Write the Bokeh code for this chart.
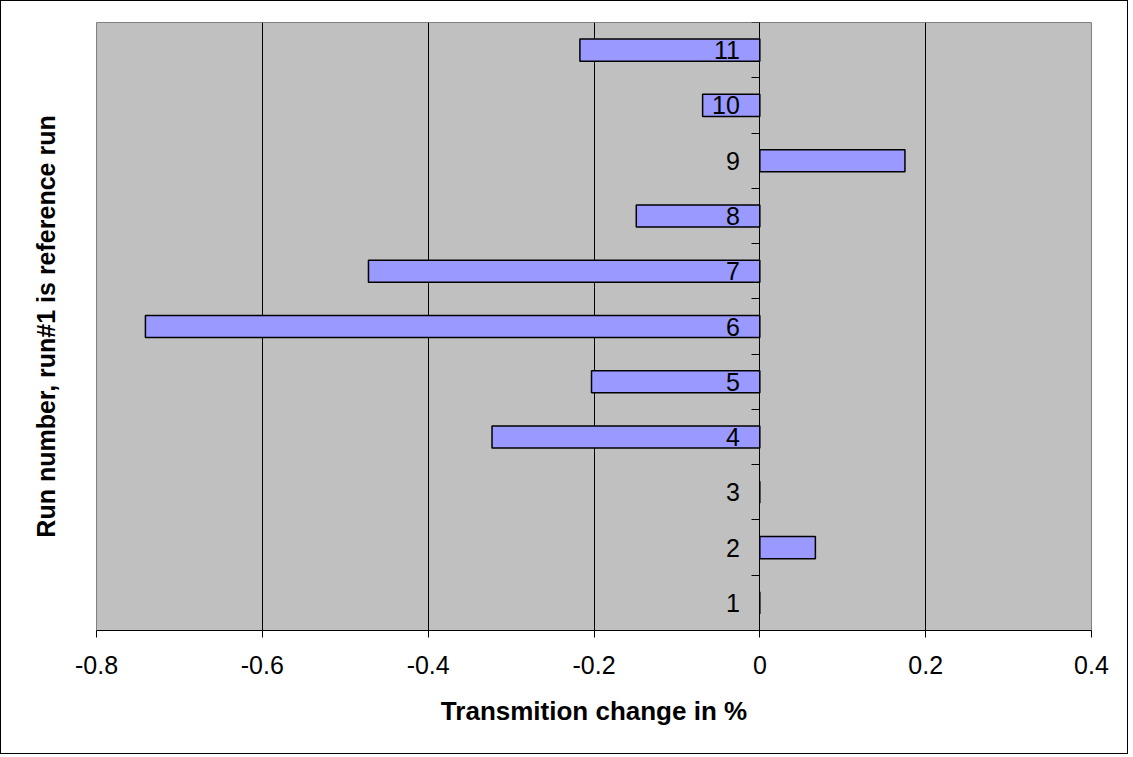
from bokeh.plotting import figure
from bokeh.models import Range1d, FixedTicker, LinearAxis, ColumnDataSource
from bokeh.embed import file_html
from bokeh.resources import INLINE

# ---- data ----
runs = [1, 2, 3, 4, 5, 6, 7, 8, 9, 10, 11]
run_labels = ["1", "2", "3", "4", "5", "6", "7", "8", "9", "10", "11"]
change = [0.0, 0.067, 0.0, -0.323, -0.203, -0.741, -0.472, -0.149, 0.175, -0.069, -0.217]
x_ticks = [-0.8, -0.6, -0.4, -0.2, 0.0, 0.2, 0.4]
x_tick_labels = ["-0.8", "-0.6", "-0.4", "-0.2", "0", "0.2", "0.4"]
x_title = "Transmition change in %"
y_title = "Run number, run#1 is reference run"

FONT = "Liberation Sans"

p = figure(width=1128, height=754, output_backend="svg", toolbar_location=None,
           x_range=Range1d(x_ticks[0], x_ticks[-1]),
           y_range=Range1d(runs[0] - 0.5, runs[-1] + 0.5),
           min_border_left=95, min_border_right=38, min_border_top=21, min_border_bottom=125)

p.background_fill_color = "#C0C0C0"
p.border_fill_color = "#FFFFFF"
p.outline_line_color = "#808080"
p.outline_line_width = 1
p.styles = {"border": "1px solid #000000"}

src = ColumnDataSource(dict(y=runs, right=change))
p.hbar(y="y", left=0, right="right", height=0.4, source=src,
       fill_color="#9999FF", line_color="#000000", line_width=1.5)

# x axis
xa = p.xaxis[0]
xa.ticker = FixedTicker(ticks=x_ticks)
xa.major_label_overrides = {t: l for t, l in zip(x_ticks, x_tick_labels)}
xa.minor_tick_line_color = None
xa.major_tick_out = 7
xa.major_tick_in = 0
xa.major_tick_line_color = "#000000"
xa.axis_line_color = "#000000"
xa.axis_line_width = 1
xa.major_label_text_font = FONT
xa.major_label_text_font_size = "25px"
xa.major_label_text_color = "#000000"
xa.major_label_standoff = 18
xa.axis_label = x_title
xa.axis_label_text_font = FONT
xa.axis_label_text_font_size = "26px"
xa.axis_label_text_font_style = "bold"
xa.axis_label_text_color = "#000000"
xa.axis_label_standoff = 19

# grid
p.xgrid.ticker = FixedTicker(ticks=x_ticks)
p.xgrid.grid_line_color = "#000000"
p.xgrid.grid_line_width = 1
p.ygrid.visible = False

# category axis at x = 0
ya = p.yaxis[0]
ya.fixed_location = 0
ya.ticker = FixedTicker(ticks=runs, minor_ticks=[r - 0.5 for r in runs] + [runs[-1] + 0.5])
ya.major_label_overrides = {r: l for r, l in zip(runs, run_labels)}
ya.major_tick_out = 0
ya.major_tick_in = 0
ya.minor_tick_out = 8
ya.minor_tick_in = 0
ya.minor_tick_line_color = "#000000"
ya.axis_line_color = "#000000"
ya.axis_line_width = 1
ya.major_label_text_font = FONT
ya.major_label_text_font_size = "25px"
ya.major_label_text_color = "#000000"
ya.major_label_standoff = 12

# y title (label only axis)
yt = LinearAxis(ticker=FixedTicker(ticks=[]), axis_line_color=None,
                major_tick_line_color=None, minor_tick_line_color=None,
                major_tick_out=0, minor_tick_out=0)
yt.axis_label = y_title
yt.axis_label_text_font = FONT
yt.axis_label_text_font_size = "25px"
yt.axis_label_text_font_style = "bold"
yt.axis_label_text_color = "#000000"
yt.axis_label_standoff = 37
p.add_layout(yt, "left")

open("out.html", "w").write(file_html(p, INLINE))
